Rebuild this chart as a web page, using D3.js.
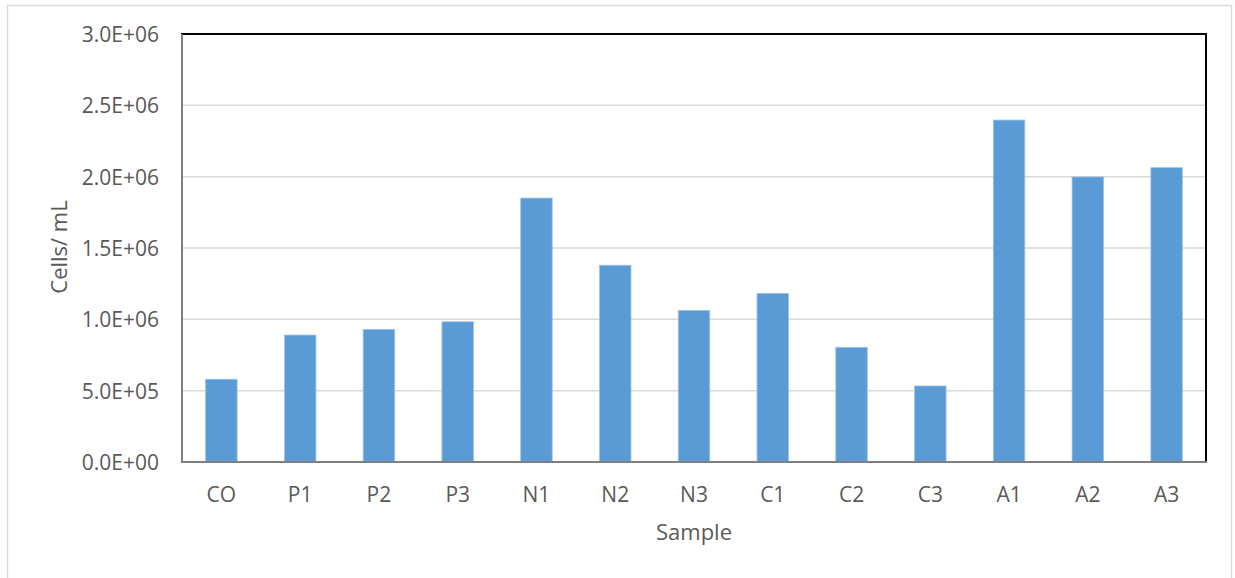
<!DOCTYPE html>
<html>
<head>
<meta charset="utf-8">
<script src="https://cdn.jsdelivr.net/npm/d3@7"></script>
<style>
  html, body { margin: 0; padding: 0; background: #fff; }
  svg { display: block; }
  text { font-family: "Open Sans", "Liberation Sans", sans-serif; fill: #595959; }
</style>
</head>
<body>
<svg id="chart" width="1235" height="578"></svg>
<script>
const categories = ["CO", "P1", "P2", "P3", "N1", "N2", "N3", "C1", "C2", "C3", "A1", "A2", "A3"];
const cellsPerML = [580000, 890000, 930000, 983000, 1850000, 1379000, 1063000, 1182000, 804000, 533000, 2397000, 1998000, 2063000];
const yTicks = [0, 500000, 1000000, 1500000, 2000000, 2500000, 3000000];
const yTickLabels = ["0.0E+00", "5.0E+05", "1.0E+06", "1.5E+06", "2.0E+06", "2.5E+06", "3.0E+06"];
const xTitle = "Sample";
const yTitle = "Cells/ mL";

const data = categories.map((c, i) => ({ cat: c, v: cellsPerML[i] }));

const svg = d3.select("#chart");
const plot = { left: 182, right: 1206, top: 34, bottom: 462 };

// outer chart border
svg.append("rect")
  .attr("x", 7.5).attr("y", 5.5).attr("width", 1224).attr("height", 580)
  .attr("fill", "#fff").attr("stroke", "#d9d9d9").attr("stroke-width", 1.5);

const x = d3.scaleBand().domain(categories)
  .range([plot.left, plot.right]).paddingInner(0.6).paddingOuter(0.3);
const y = d3.scaleLinear().domain([0, 3000000]).range([plot.bottom, plot.top]);

// gridlines
svg.append("g").selectAll("line").data(yTicks.slice(1)).join("line")
  .attr("x1", plot.left).attr("x2", plot.right)
  .attr("y1", d => y(d)).attr("y2", d => y(d))
  .attr("stroke", "#d9d9d9").attr("stroke-width", 1.5);

// bars
svg.append("g").selectAll("rect").data(data).join("rect")
  .attr("x", d => x(d.cat)).attr("width", x.bandwidth())
  .attr("y", d => y(d.v)).attr("height", d => y(0) - y(d.v))
  .attr("fill", "#5b9bd5").attr("stroke", "#9dc3e6").attr("stroke-width", 0.8);

// plot frame (top/right black)
svg.append("rect")
  .attr("x", plot.left).attr("y", plot.top)
  .attr("width", plot.right - plot.left).attr("height", plot.bottom - plot.top)
  .attr("fill", "none").attr("stroke", "#000").attr("stroke-width", 2);

// left and bottom axis lines (gray)
svg.append("line").attr("x1", plot.left).attr("x2", plot.left)
  .attr("y1", plot.top).attr("y2", plot.bottom + 1)
  .attr("stroke", "#7f7f7f").attr("stroke-width", 2);
svg.append("line").attr("x1", plot.left - 1).attr("x2", plot.right + 1)
  .attr("y1", plot.bottom).attr("y2", plot.bottom)
  .attr("stroke", "#7f7f7f").attr("stroke-width", 2);

// y axis tick labels via d3 axis
const yAxis = d3.axisLeft(y).tickValues(yTicks)
  .tickFormat((d, i) => yTickLabels[i]).tickSize(0).tickPadding(0);
const gy = svg.append("g").attr("transform", `translate(${159},0)`).call(yAxis);
gy.select(".domain").remove();
gy.selectAll("text")
  .attr("font-family", "'Open Sans', sans-serif")
  .attr("font-size", 21).attr("fill", "#595959").attr("dy", "0.36em");

// x axis labels
const xAxis = d3.axisBottom(x).tickSize(0).tickPadding(0);
const gx = svg.append("g").attr("transform", `translate(0,${plot.bottom})`).call(xAxis);
gx.select(".domain").remove();
gx.selectAll("text")
  .attr("font-family", "'Open Sans', sans-serif")
  .attr("font-size", 21).attr("fill", "#595959")
  .attr("y", 40).attr("dy", 0);

// axis titles
svg.append("text").attr("x", 694).attr("y", 540)
  .attr("text-anchor", "middle").attr("font-size", 22).text(xTitle);
svg.append("text")
  .attr("transform", "translate(67,247) rotate(-90)")
  .attr("text-anchor", "middle").attr("font-size", 22).text(yTitle);
</script>
</body>
</html>
